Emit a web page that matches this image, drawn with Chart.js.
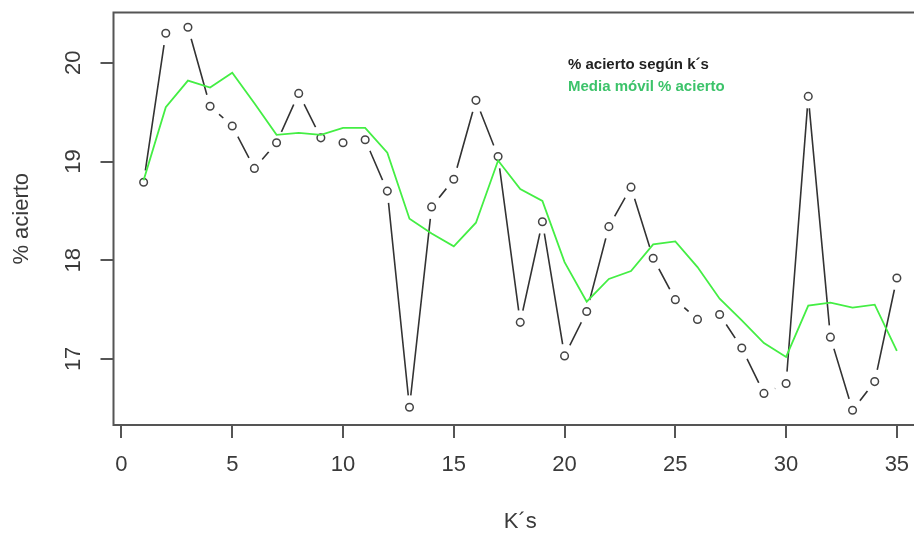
<!DOCTYPE html>
<html>
<head>
<meta charset="utf-8">
<script src="https://cdn.jsdelivr.net/npm/chart.js@4.4.1/dist/chart.umd.min.js"></script>
<style>
  html,body{margin:0;padding:0;background:#fff;overflow:hidden;}
  #wrap{width:914px;height:533px;overflow:hidden;}
</style>
</head>
<body>
<div id="wrap"><canvas id="chart" width="940" height="533"></canvas></div>
<script>
// % de acierto para cada k y su media móvil
const ks = [1,2,3,4,5,6,7,8,9,10,11,12,13,14,15,16,17,18,19,20,21,22,23,24,25,26,27,28,29,30,31,32,33,34,35];
const acierto = [18.79,20.30,20.36,19.56,19.36,18.93,19.19,19.69,19.24,19.19,19.22,18.70,16.51,18.54,18.82,19.62,19.05,17.37,18.39,17.03,
                 17.48,18.34,18.74,18.02,17.60,17.40,17.45,17.11,16.65,16.75,19.66,17.22,16.48,16.77,17.82];
const mediaMovil = [18.81,19.55,19.82,19.75,19.90,19.59,19.27,19.29,19.27,19.34,19.34,19.09,18.42,18.27,18.14,18.38,19.01,18.72,18.60,17.98,
                    17.58,17.81,17.89,18.16,18.19,17.93,17.61,17.39,17.16,17.02,17.54,17.57,17.52,17.55,17.08];
const xTicks = [0,5,10,15,20,25,30,35];
const yTicks = [17,18,19,20];

const FONT = '"Liberation Sans", Arial, sans-serif';
const TXT = '#3a3a3a';

// puntos huecos con hueco en la línea (estilo type="b" de R), caja y textos
const rPlot = {
  id: 'rPlot',
  afterDatasetDraw(chart, args) {
    if (args.index !== 0) return;
    const ctx = chart.ctx;
    const pts = args.meta.data;
    ctx.save();
    ctx.fillStyle = '#fff';
    pts.forEach(p => { ctx.beginPath(); ctx.arc(p.x, p.y, 12, 0, 2 * Math.PI); ctx.fill(); });
    ctx.strokeStyle = '#444';
    ctx.lineWidth = 1.5;
    pts.forEach(p => { ctx.beginPath(); ctx.arc(p.x, p.y, 3.8, 0, 2 * Math.PI); ctx.stroke(); });
    ctx.restore();
  },
  afterDraw(chart) {
    const ctx = chart.ctx;
    const a = chart.chartArea;
    const y = chart.scales.y;
    ctx.save();
    ctx.strokeStyle = '#555';
    ctx.lineWidth = 2;
    ctx.strokeRect(a.left, a.top, a.right - a.left, a.bottom - a.top);

    ctx.fillStyle = TXT;
    ctx.font = '22px ' + FONT;
    ctx.textAlign = 'center';
    ctx.textBaseline = 'middle';
    yTicks.forEach(v => {
      ctx.save();
      ctx.translate(73.5, y.getPixelForValue(v));
      ctx.rotate(-Math.PI / 2);
      ctx.fillText(String(v), 0, 0);
      ctx.restore();
    });

    ctx.font = 'bold 15px ' + FONT;
    ctx.textAlign = 'left';
    ctx.fillStyle = '#222';
    ctx.fillText('% acierto según k´s', 568, 65);
    ctx.fillStyle = '#3cc36a';
    ctx.fillText('Media móvil % acierto', 568, 87);
    ctx.restore();
  }
};

new Chart(document.getElementById('chart'), {
  type: 'line',
  data: {
    datasets: [
      { label: '% acierto según k´s', data: ks.map((k, i) => ({x: k, y: acierto[i]})),
        borderColor: '#333', borderWidth: 1.6, pointRadius: 0, order: 2 },
      { label: 'Media móvil % acierto', data: ks.map((k, i) => ({x: k, y: mediaMovil[i]})),
        borderColor: '#44ee44', borderWidth: 1.8, pointRadius: 0, order: 1 }
    ]
  },
  options: {
    responsive: false,
    animation: false,
    layout: { padding: { top: 12.5, right: 13, left: 0, bottom: 0 } },
    plugins: { legend: { display: false }, tooltip: { enabled: false } },
    scales: {
      x: {
        type: 'linear', min: -0.36, max: 36.36,
        afterBuildTicks: s => { s.ticks = xTicks.map(v => ({value: v})); },
        afterFit: s => { s.height = 108; },
        grid: { drawOnChartArea: false, drawTicks: true, tickLength: 13, color: '#555', lineWidth: 2 },
        border: { display: false },
        ticks: { font: { family: FONT, size: 22 }, color: TXT, padding: 14, maxRotation: 0, autoSkip: false },
        title: { display: true, text: 'K´s', font: { family: FONT, size: 22 }, color: TXT, padding: { top: 0, bottom: -2 } }
      },
      y: {
        min: 16.33, max: 20.51,
        afterBuildTicks: s => { s.ticks = yTicks.map(v => ({value: v})); },
        afterFit: s => { s.width = 113.5; },
        grid: { drawOnChartArea: false, drawTicks: true, tickLength: 13, color: '#555', lineWidth: 2 },
        border: { display: false },
        ticks: { display: false },
        title: { display: true, text: '% acierto', font: { family: FONT, size: 22 }, color: TXT, padding: { top: 9, bottom: 0 } }
      }
    }
  },
  plugins: [rPlot]
});
</script>
</body>
</html>
